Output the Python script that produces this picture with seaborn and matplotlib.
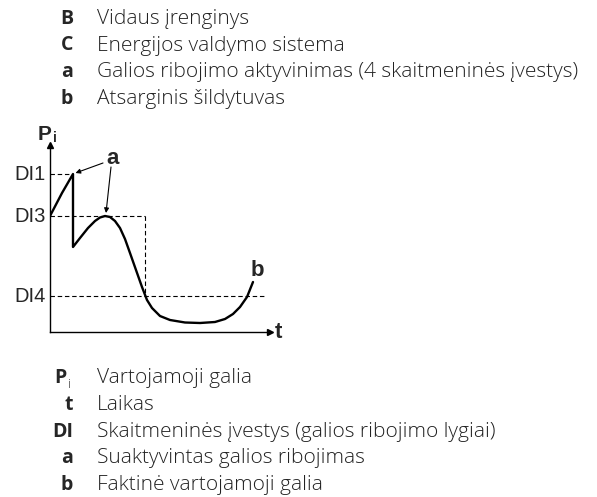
import matplotlib
matplotlib.use("Agg")
import matplotlib.pyplot as plt
import seaborn as sns

sns.set_style("white")

# ------------------------
# DATA
# ------------------------
legend_top_keys = ["B", "C", "a", "b"]
legend_top_text = ["Vidaus įrenginys", "Energijos valdymo sistema",
                   "Galios ribojimo aktyvinimas (4 skaitmeninės įvestys)",
                   "Atsarginis šildytuvas"]

legend_bot_keys = ["P", "t", "DI", "a", "b"]
legend_bot_text = ["Vartojamoji galia", "Laikas",
                   "Skaitmeninės įvestys (galios ribojimo lygiai)",
                   "Suaktyvintas galios ribojimas", "Faktinė vartojamoji galia"]

# consumed power curve (time, power)
t_vals = [0, 1.2, 2.3, 2.3, 3.0, 3.8, 4.5, 5.0, 5.5, 6.0, 6.5, 7.0, 7.5,
          8.0, 8.6, 9.2, 9.7, 10.2, 11.0, 12.0, 13.5, 15.0, 16.5, 17.5,
          18.3, 19.0, 19.7, 20.3]
p_vals = [11.6, 13.9, 15.8, 8.5, 9.4, 10.4, 11.1, 11.45, 11.6, 11.5, 11.1,
          10.4, 9.3, 7.9, 6.2, 4.5, 3.2, 2.4, 1.6, 1.2, 0.95, 0.9, 1.0, 1.3,
          1.8, 2.5, 3.5, 5.0]

# digital input levels
di_names = ["DI1", "DI3", "DI4"]
di_levels = [15.8, 11.6, 3.6]
di_ends = [2.3, 9.5, 21.4]

# ------------------------
# FIGURE
# ------------------------
W, H = 597, 497
fig = plt.figure(figsize=(W / 100, H / 100), dpi=100)

def fx(px):
    return px / W

def fy(py):
    return 1 - py / H

txt_font = "Open Sans"
diag_font = "Liberation Sans"
fs = 15

# legends
for i, (k, s) in enumerate(zip(legend_top_keys, legend_top_text)):
    y = 19 + i * 26.5
    fig.text(fx(73), fy(y), k, ha="right", va="center", fontsize=fs - 1,
             fontweight="bold", family=txt_font)
    fig.text(fx(97), fy(y), s, ha="left", va="center", fontsize=fs,
             fontweight="light", family=txt_font, color="#222222")

for i, (k, s) in enumerate(zip(legend_bot_keys, legend_bot_text)):
    y = 378 + i * 26.8
    if k == "P":
        fig.text(fx(67), fy(y), k, ha="right", va="center", fontsize=fs - 1,
                 fontweight="bold", family=txt_font)
        fig.text(fx(68), fy(y + 6), "i", ha="left", va="center", fontsize=9,
                 fontweight="light", family=txt_font)
    else:
        fig.text(fx(73), fy(y), k, ha="right", va="center", fontsize=fs - 1,
                 fontweight="bold", family=txt_font)
    fig.text(fx(97), fy(y), s, ha="left", va="center", fontsize=fs,
             fontweight="light", family=txt_font, color="#222222")

# diagram axes
ax = fig.add_axes([fx(50), fy(332), (270 - 50) / W, (332 - 145) / H])
ax.set_xlim(0, 22.0)
ax.set_ylim(0, 18.7)
ax.set_xticks([])
ax.set_yticks([])
for side in ["top", "right"]:
    ax.spines[side].set_visible(False)
for side in ["left", "bottom"]:
    ax.spines[side].set_linewidth(1.0)
    ax.spines[side].set_color("black")
ax.patch.set_alpha(0)

# axis arrow heads
ax.plot(1, 0, marker=">", color="black", markersize=4, transform=ax.transAxes, clip_on=False)
ax.plot(0, 1, marker="^", color="black", markersize=4, transform=ax.transAxes, clip_on=False)

# dashed level lines
for name, lev, end in zip(di_names, di_levels, di_ends):
    ax.plot([0, end], [lev, lev], ls=(0, (4, 2.5)), color="black", lw=0.8)
    ax.text(-0.4, lev, name, ha="right", va="center", fontsize=14.5,
            family=diag_font, clip_on=False)
ax.plot([di_ends[1], di_ends[1]], [di_levels[1], di_levels[2]],
        ls=(0, (4, 2.5)), color="black", lw=0.8)

sns.lineplot(x=t_vals, y=p_vals, sort=False, estimator=None, color="black",
             lw=1.7, ax=ax)

# annotations
ax.text(6.3, 17.4, "a", ha="center", va="center", fontsize=16,
        fontweight="bold", family=diag_font)
ax.annotate("", xy=(t_vals[2] + 0.25, p_vals[2] + 0.1), xytext=(5.3, 16.9),
            arrowprops=dict(arrowstyle="-|>", color="black", lw=0.8,
                            mutation_scale=7, shrinkA=0, shrinkB=0))
ax.annotate("", xy=(5.6, 11.9), xytext=(6.1, 16.5),
            arrowprops=dict(arrowstyle="-|>", color="black", lw=0.8,
                            mutation_scale=7, shrinkA=0, shrinkB=0))
ax.text(20.7, 6.2, "b", ha="center", va="center", fontsize=16,
        fontweight="bold", family=diag_font)
ax.text(22.8, -0.1, "t", ha="center", va="center", fontsize=16,
        fontweight="bold", family=diag_font, clip_on=False)
ax.text(-0.5, 19.8, "P", ha="center", va="center", fontsize=15,
        fontweight="bold", family=diag_font, clip_on=False)
ax.text(0.3, 19.4, "i", ha="left", va="center", fontsize=10,
        fontweight="bold", family=diag_font, clip_on=False)

plt.savefig("out.png", dpi=100)
